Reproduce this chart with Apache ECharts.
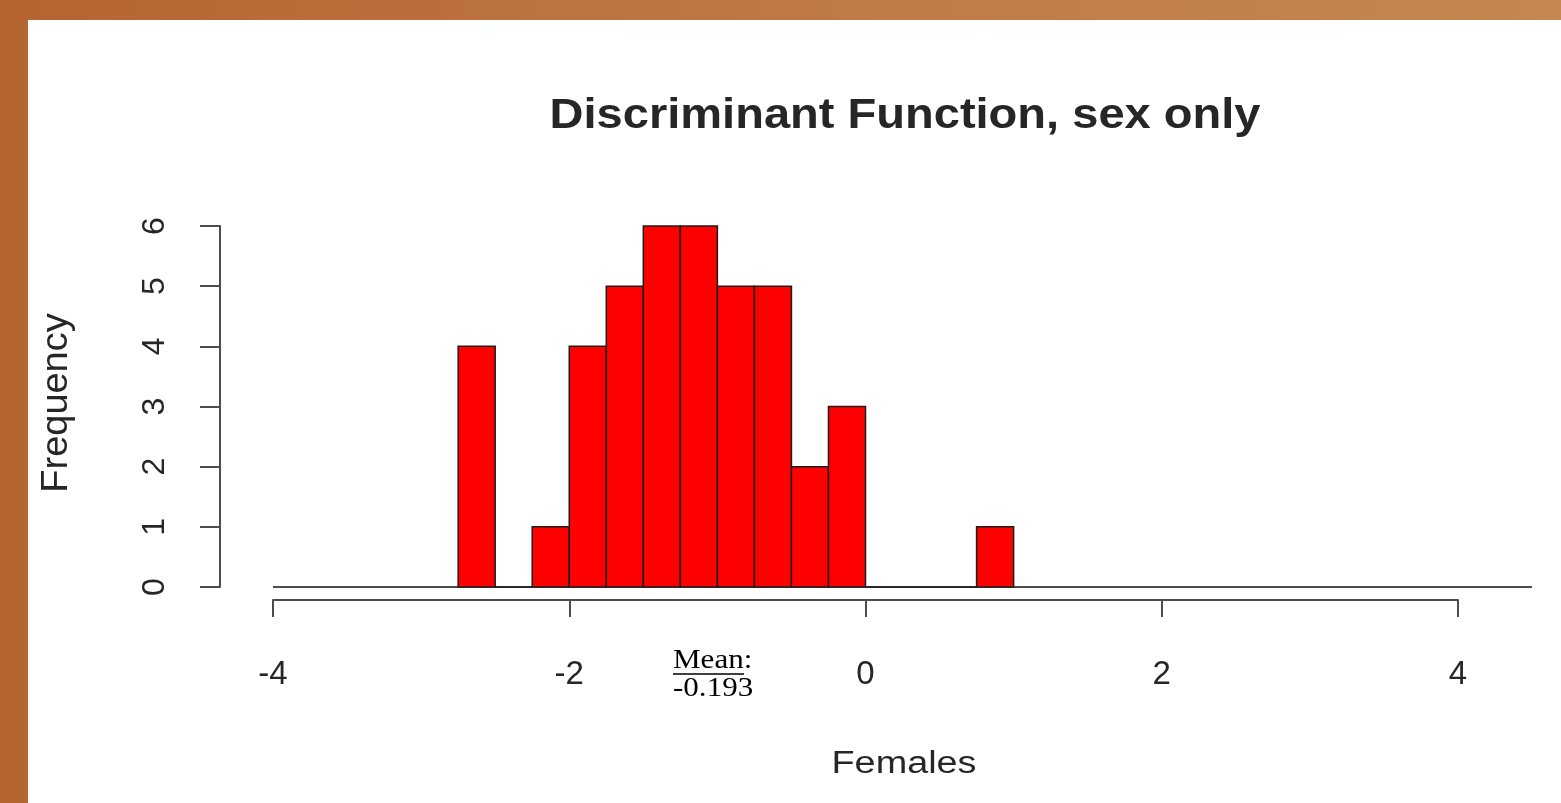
<!DOCTYPE html>
<html>
<head>
<meta charset="utf-8">
<title>Discriminant Function, sex only</title>
<script src="https://cdn.jsdelivr.net/npm/echarts@6/dist/echarts.min.js"></script>
<style>
  html, body { margin: 0; padding: 0; width: 1561px; height: 803px; overflow: hidden; }
  body { background: linear-gradient(to right, #b5652f 0%, #c07a45 55%, #c5874f 100%); position: relative; }
  #panel { position: absolute; left: 28px; top: 20px; right: 0; bottom: 0; background: #ffffff; }
  #chart { position: absolute; left: 0; top: 0; width: 1561px; height: 803px; }
</style>
</head>
<body>
<div id="panel"></div>
<div id="chart"></div>
<script>
// Histogram bin edges (width 0.25) and the count in each bin
const binEdges = [-2.75, -2.5, -2.25, -2.0, -1.75, -1.5, -1.25, -1.0, -0.75, -0.5, -0.25, 0.0, 0.25, 0.5, 0.75, 1.0];
const binCounts = [4, 0, 1, 4, 5, 6, 6, 5, 5, 2, 3, 0, 0, 0, 1];

// Axis ranges and tick labels
const xTicks = [-4, -2, 0, 2, 4];
const yTicks = [0, 1, 2, 3, 4, 5, 6];
const plotXRange = [-4, 4.5];   // extent of the zero line drawn under the bars

const titleText = 'Discriminant Function, sex only';
const xName = 'Females';
const yName = 'Frequency';
const meanLabel = 'Mean';
const meanValue = '-0.193';

const bins = binCounts.map((c, i) => [binEdges[i], binEdges[i + 1], c]);

const chart = echarts.init(document.getElementById('chart'), null, { renderer: 'canvas' });

const axisColor = '#4d4d4d';
const textColor = '#262626';

// pixel layout: one x unit = 148.125 px, x = -4 sits at 273 px
const gridLeft = 273, gridTop = 226, gridBottom = 216;
const unitPx = 148.125;
const plotWidth = (plotXRange[1] - plotXRange[0]) * unitPx;
const axisWidth = (xTicks[xTicks.length - 1] - xTicks[0]) * unitPx;

chart.setOption({
  animation: false,
  backgroundColor: 'transparent',
  grid: [
    // data area, reaching a little past the last x tick
    { left: gridLeft, width: plotWidth, top: gridTop, bottom: gridBottom, containLabel: false },
    // drawn x axis, spanning only the tick range
    { left: gridLeft, width: axisWidth, top: gridTop, bottom: gridBottom, containLabel: false }
  ],
  xAxis: [
    {
      gridIndex: 0,
      type: 'value',
      min: plotXRange[0],
      max: plotXRange[1],
      show: false
    },
    {
      gridIndex: 1,
      type: 'value',
      min: xTicks[0],
      max: xTicks[xTicks.length - 1],
      interval: 2,
      offset: 13,
      splitLine: { show: false },
      axisLine: { show: true, onZero: false, lineStyle: { color: axisColor, width: 2 } },
      axisTick: { show: true, length: 17, lineStyle: { color: axisColor, width: 2 } },
      axisLabel: {
        margin: 58,
        fontFamily: 'Liberation Sans, Arial, sans-serif',
        fontSize: 33,
        color: textColor,
        formatter: v => String(v)
      }
    }
  ],
  yAxis: [
    {
      gridIndex: 0,
      type: 'value',
      min: yTicks[0],
      max: yTicks[yTicks.length - 1],
      interval: 1,
      offset: 53,
      splitLine: { show: false },
      axisLine: { show: true, onZero: false, lineStyle: { color: axisColor, width: 2 } },
      axisTick: { show: true, length: 20, lineStyle: { color: axisColor, width: 2 } },
      axisLabel: {
        rotate: 90,
        margin: 49,
        fontFamily: 'Liberation Sans, Arial, sans-serif',
        fontSize: 32,
        color: textColor,
        formatter: v => String(v)
      }
    },
    {
      gridIndex: 1,
      type: 'value',
      min: yTicks[0],
      max: yTicks[yTicks.length - 1],
      show: false
    }
  ],
  series: [
    {
      // zero reference line under the bars
      type: 'line',
      xAxisIndex: 0,
      yAxisIndex: 0,
      data: plotXRange.map(x => [x, 0]),
      symbol: 'none',
      silent: true,
      lineStyle: { color: axisColor, width: 2 },
      z: 1
    },
    {
      type: 'custom',
      xAxisIndex: 0,
      yAxisIndex: 0,
      data: bins,
      encode: { x: [0, 1], y: 2 },
      renderItem: function (params, api) {
        const x0 = api.value(0), x1 = api.value(1), c = api.value(2);
        const p0 = api.coord([x0, 0]);
        const p1 = api.coord([x1, c]);
        return {
          type: 'rect',
          shape: { x: p0[0], y: p1[1], width: p1[0] - p0[0], height: p0[1] - p1[1] },
          style: { fill: '#ff0000', stroke: '#1c1c1c', lineWidth: 1.5 }
        };
      },
      z: 3
    }
  ],
  graphic: [
    {
      type: 'text', x: 905, y: 116, scaleX: 1.12,
      style: {
        text: titleText, font: 'bold 42px "Liberation Sans", Arial, sans-serif',
        fill: textColor, align: 'center', verticalAlign: 'middle',
        textAlign: 'center', textVerticalAlign: 'middle'
      }
    },
    {
      type: 'text', x: 904, y: 764, scaleX: 1.22,
      style: {
        text: xName, font: '31px "Liberation Sans", Arial, sans-serif',
        fill: textColor, align: 'center', verticalAlign: 'middle',
        textAlign: 'center', textVerticalAlign: 'middle'
      }
    },
    {
      type: 'text', x: 57, y: 403, rotation: Math.PI / 2, scaleX: 1.15, scaleY: 1.1,
      style: {
        text: yName, font: '33px "Liberation Sans", Arial, sans-serif',
        fill: textColor, align: 'center', verticalAlign: 'middle',
        textAlign: 'center', textVerticalAlign: 'middle'
      }
    },
    {
      type: 'text', x: 673, y: 661, scaleX: 1.15,
      style: {
        text: meanLabel + ':', font: '27px "Liberation Serif", "Times New Roman", serif',
        fill: '#000', align: 'left', verticalAlign: 'middle',
        textAlign: 'left', textVerticalAlign: 'middle'
      }
    },
    {
      type: 'line',
      shape: { x1: 673, y1: 674, x2: 744, y2: 674 },
      style: { stroke: '#000', lineWidth: 1.5 }
    },
    {
      type: 'text', x: 673, y: 689, scaleX: 1.15,
      style: {
        text: meanValue, font: '27px "Liberation Serif", "Times New Roman", serif',
        fill: '#000', align: 'left', verticalAlign: 'middle',
        textAlign: 'left', textVerticalAlign: 'middle'
      }
    }
  ]
});
</script>
</body>
</html>
